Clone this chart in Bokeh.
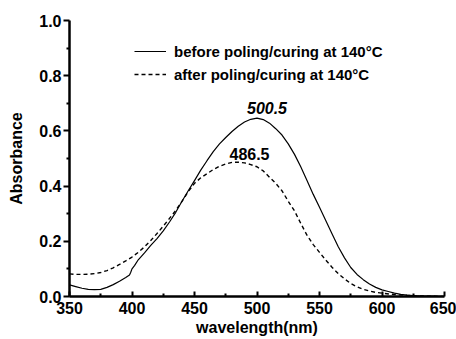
from bokeh.plotting import figure
from bokeh.models import Legend, LegendItem, Label, FixedTicker, Range1d, CustomJSTickFormatter
from bokeh.embed import file_html
from bokeh.resources import INLINE

wl_before = [350, 355, 360, 365, 370, 375, 380, 385, 390, 395, 398, 399, 400, 402, 405, 410, 415, 420,
             425, 430, 435, 440, 445, 450, 455, 460, 465, 470, 475, 480, 485, 490, 495, 500, 505, 510,
             515, 520, 525, 530, 535, 540, 545, 550, 555, 560, 565, 570, 575, 580, 585, 590, 595, 600,
             605, 610, 615, 620, 625, 630, 640, 650]
abs_before = [0.042, 0.036, 0.030, 0.026, 0.025, 0.026, 0.033, 0.043, 0.055, 0.069, 0.078, 0.088, 0.100,
              0.112, 0.133, 0.158, 0.185, 0.210, 0.238, 0.270, 0.305, 0.345, 0.383, 0.420, 0.458, 0.492,
              0.525, 0.553, 0.576, 0.598, 0.617, 0.632, 0.642, 0.646, 0.641, 0.628, 0.608, 0.585, 0.553,
              0.515, 0.470, 0.420, 0.370, 0.323, 0.275, 0.227, 0.180, 0.140, 0.105, 0.080, 0.061, 0.045,
              0.033, 0.024, 0.018, 0.012, 0.008, 0.005, 0.003, 0.002, 0.001, 0.000]

wl_after = [350, 355, 360, 365, 370, 375, 380, 385, 390, 395, 400, 405, 410, 415, 420, 425, 430, 435, 440,
            445, 450, 455, 460, 465, 470, 475, 480, 485, 490, 495, 500, 505, 510, 515, 520, 525, 530, 535,
            540, 545, 550, 555, 560, 565, 570, 575, 580, 585, 590, 595, 600, 610, 620, 630, 650]
abs_after = [0.082, 0.080, 0.080, 0.081, 0.083, 0.087, 0.094, 0.104, 0.116, 0.129, 0.143, 0.160, 0.180,
             0.203, 0.228, 0.255, 0.283, 0.312, 0.345, 0.380, 0.410, 0.430, 0.445, 0.460, 0.472, 0.480,
             0.486, 0.487, 0.484, 0.478, 0.470, 0.455, 0.432, 0.410, 0.383, 0.345, 0.310, 0.265, 0.222,
             0.188, 0.160, 0.132, 0.106, 0.083, 0.064, 0.047, 0.035, 0.026, 0.020, 0.015, 0.012, 0.007,
             0.004, 0.002, 0.000]

series_labels = ["before poling/curing at 140\u00b0C", "after poling/curing at 140\u00b0C"]
peak_labels = ["500.5", "486.5"]
peak_label_pos = [(508, 0.683), (494, 0.518)]

x_ticks = [350, 400, 450, 500, 550, 600, 650]
x_minor = [375, 425, 475, 525, 575, 625]
y_ticks = [0.0, 0.2, 0.4, 0.6, 0.8, 1.0]
y_minor = [0.1, 0.3, 0.5, 0.7, 0.9]

FONT = "Liberation Sans"

p = figure(width=456, height=339, output_backend="svg", toolbar_location=None,
           x_range=Range1d(350, 650), y_range=Range1d(0, 1.0),
           min_border_left=69, min_border_right=12, min_border_top=20, min_border_bottom=43)
p.outline_line_color = None
p.grid.grid_line_color = None
p.background_fill_color = "white"
p.border_fill_color = "white"

r1 = p.line(wl_before, abs_before, line_color="black", line_width=1.2)
r2 = p.line(wl_after, abs_after, line_color="black", line_width=1.4, line_dash="4 3")

for ax in (p.xaxis[0], p.yaxis[0]):
    ax.axis_line_width = 2.5
    ax.major_tick_line_width = 2
    ax.minor_tick_line_width = 2
    ax.major_label_text_font = FONT
    ax.major_label_text_font_style = "bold"
    ax.major_label_text_font_size = "16px"
    ax.major_label_text_color = "black"
    ax.axis_label_text_font = FONT
    ax.axis_label_text_font_style = "bold"
    ax.axis_label_text_font_size = "16px"
    ax.axis_label_text_color = "black"

p.xaxis.ticker = FixedTicker(ticks=x_ticks, minor_ticks=x_minor)
p.yaxis.ticker = FixedTicker(ticks=y_ticks, minor_ticks=y_minor)
p.xaxis.major_tick_in = 5
p.xaxis.major_tick_out = 0
p.xaxis.minor_tick_in = 3
p.xaxis.minor_tick_out = 0
p.yaxis.major_tick_in = 0
p.yaxis.major_tick_out = 6
p.yaxis.minor_tick_in = 0
p.yaxis.minor_tick_out = 3
p.xaxis.major_label_standoff = 5
p.yaxis.major_label_standoff = 2
p.xaxis.axis_label = "wavelength(nm)"
p.yaxis.axis_label = "Absorbance"
p.xaxis.axis_label_standoff = 2
p.yaxis.axis_label_standoff = 11
p.yaxis.formatter = CustomJSTickFormatter(code="return tick.toFixed(1);")

legend = Legend(items=[LegendItem(label=series_labels[0], renderers=[r1]),
                       LegendItem(label=series_labels[1], renderers=[r2])],
                location=(65, 212), border_line_color=None, background_fill_alpha=0,
                padding=0, margin=0, spacing=3, label_height=20, glyph_height=20, glyph_width=32,
                label_standoff=8, label_text_font=FONT, label_text_font_style="bold",
                label_text_font_size="15px", label_text_color="black")
p.add_layout(legend, "center")

styles = ["bold italic", "bold"]
for txt, (lx, ly), st in zip(peak_labels, peak_label_pos, styles):
    p.add_layout(Label(x=lx, y=ly, text=txt, text_font=FONT, text_font_style=st,
                       text_font_size="16px", text_align="center", text_baseline="middle",
                       text_color="black"))

open("out.html", "w").write(file_html(p, INLINE))
